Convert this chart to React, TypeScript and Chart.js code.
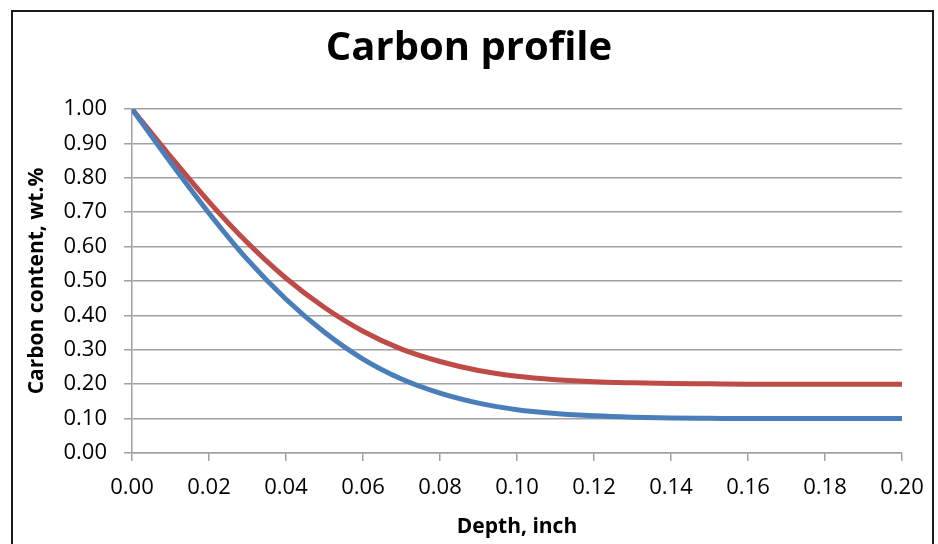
import React, { useEffect, useRef } from "react";
import { Chart, registerables } from "chart.js";

Chart.register(...registerables);

const depth = [0, 0.01, 0.02, 0.03, 0.04, 0.05, 0.06, 0.07, 0.08, 0.09, 0.1, 0.11, 0.12, 0.13, 0.14, 0.15, 0.16, 0.17, 0.18, 0.19, 0.2];
const blueSeries = [1.0, 0.845, 0.697, 0.562, 0.447, 0.351, 0.273, 0.215, 0.174, 0.145, 0.126, 0.115, 0.108, 0.104, 0.102, 0.101, 0.1, 0.1, 0.1, 0.1, 0.1];
const redSeries = [1.0, 0.862, 0.73, 0.611, 0.508, 0.423, 0.354, 0.302, 0.266, 0.24, 0.223, 0.213, 0.207, 0.204, 0.202, 0.201, 0.2, 0.2, 0.2, 0.2, 0.2];

const chartTitle = "Carbon profile";
const xTitle = "Depth, inch";
const yTitle = "Carbon content, wt.%";

export default function App() {
  const ref = useRef<HTMLCanvasElement>(null);
  useEffect(() => {
    if (!ref.current) return;
    const font = "'Open Sans', sans-serif";
    const grid = "#a0a0a0";
    const chart = new Chart(ref.current, {
      type: "line",
      data: {
        datasets: [
          {
            label: "Blue",
            data: depth.map((x, i) => ({ x, y: blueSeries[i] })),
            borderColor: "#4a7ebb",
            borderWidth: 5,
            pointRadius: 0,
            cubicInterpolationMode: "monotone",
          },
          {
            label: "Red",
            data: depth.map((x, i) => ({ x, y: redSeries[i] })),
            borderColor: "#be4b48",
            borderWidth: 5,
            pointRadius: 0,
            cubicInterpolationMode: "monotone",
          },
        ],
      },
      options: {
        animation: false,
        responsive: false,
        maintainAspectRatio: false,
        layout: { padding: { top: 10, left: 14, right: 14, bottom: 0 } },
        plugins: {
          legend: { display: false },
          tooltip: { enabled: false },
          title: {
            display: true,
            text: chartTitle,
            color: "#000",
            font: { family: font, size: 40, weight: "bold" },
            padding: { top: 15, bottom: 36 },
          },
        },
        scales: {
          x: {
            type: "linear",
            min: 0,
            max: 0.2,
            afterFit: (s: any) => {
              s.height = 91;
            },
            ticks: {
              stepSize: 0.02,
              color: "#000",
              font: { family: font, size: 22 },
              padding: 14,
              maxRotation: 0,
              autoSkip: false,
              callback: (v: any) => Number(v).toFixed(2),
            },
            grid: { drawOnChartArea: false, drawTicks: true, tickLength: 8, color: grid, lineWidth: 1.5 },
            border: { display: true, color: grid, width: 1.5 },
            title: {
              display: true,
              text: xTitle,
              color: "#000",
              font: { family: font, size: 21, weight: "bold" },
              padding: { top: 0, bottom: 4 },
            },
          },
          y: {
            type: "linear",
            min: 0,
            max: 1,
            afterFit: (s: any) => {
              s.width = 118;
            },
            ticks: {
              stepSize: 0.1,
              color: "#000",
              font: { family: font, size: 22 },
              padding: 17,
              callback: (v: any) => Number(v).toFixed(2),
            },
            grid: { drawTicks: true, tickLength: 8, color: grid, lineWidth: 1.5 },
            border: { display: true, color: grid, width: 1.5 },
            title: {
              display: true,
              text: yTitle,
              color: "#000",
              font: { family: font, size: 21, weight: "bold" },
              padding: { top: 10, bottom: 0 },
            },
          },
          ySpacer: {
            type: "linear",
            position: "right",
            min: 0,
            max: 1,
            afterFit: (s: any) => {
              s.width = 22;
            },
            ticks: { display: false },
            grid: { display: false, drawTicks: false },
            border: { display: false },
          },
        },
      },
    });
    return () => chart.destroy();
  }, []);
  return (
    <div style={{ position: "fixed", left: 0, top: 0, width: 938, height: 544, background: "#fff", overflow: "hidden" }}>
      <canvas ref={ref} width={938} height={544} style={{ position: "absolute", left: 0, top: 0, width: 938, height: 544 }} />
      <div
        style={{
          position: "absolute",
          left: 11,
          top: 10,
          width: 919,
          height: 600,
          border: "2px solid #1a1a1a",
          pointerEvents: "none",
        }}
      />
    </div>
  );
}
